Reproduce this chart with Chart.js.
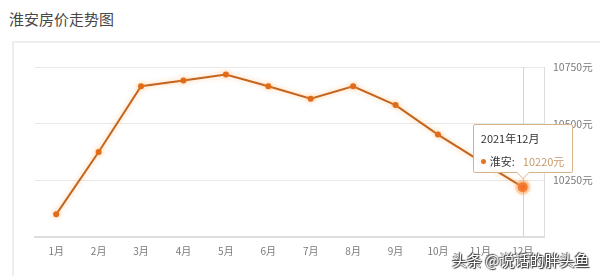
<!DOCTYPE html>
<html>
<head>
<meta charset="utf-8">
<script src="https://cdn.jsdelivr.net/npm/chart.js@4/dist/chart.umd.min.js"></script>
<style>
  html, body { margin: 0; padding: 0; background: #fff; }
  body { width: 600px; height: 276px; position: relative; overflow: hidden; font-family: "Noto Sans CJK SC", "Noto Sans", sans-serif; }
  #title { position: absolute; left: 9px; top: 8px; font-size: 15px; color: #484848; }
  #panel { position: absolute; left: 12px; top: 41px; width: 620px; height: 260px; border: 2px solid #eee; }
  #wrap { position: absolute; left: 0; top: 0; width: 600px; height: 276px; }
  #tip { position: absolute; display: none; width: 98px; height: 47px; background: rgba(255,255,255,0.96);
         border: 1px solid #d8b38a; border-radius: 2px; font-size: 11px; color: #333; box-sizing: content-box; }
  #tip .t { position: absolute; left: 7px; top: 5px; }
  #tip .b { position: absolute; left: 7px; top: 28px; color: #333; white-space: nowrap; }
  #tip .dot { display: inline-block; width: 5px; height: 5px; border-radius: 50%; background: #e8731e; margin-right: 4px; vertical-align: 2px; }
  #tip .v { color: #c59a68; margin-left: 8px; }
  #tip:after, #tip:before { content: ''; position: absolute; left: 50%; border-style: solid; border-color: transparent; }
  #tip:before { bottom: -7px; margin-left: -7px; border-width: 7px 7px 0 7px; border-top-color: #d8b38a; }
  #tip:after { bottom: -6px; margin-left: -6px; border-width: 6px 6px 0 6px; border-top-color: #fff; }
  #mark { position: absolute; left: 452px; top: 249px; font-size: 15px; color: #fff;
          text-shadow: 0 0 2px #333, 1px 1px 1px #333, -1px -1px 1px #555; }
</style>
</head>
<body>
<div id="title">淮安房价走势图</div>
<div id="panel"></div>
<div id="wrap"><canvas id="chart" width="600" height="276"></canvas></div>
<div id="tip"></div>
<div id="mark">头条 @说话的胖头鱼</div>
<script>
const months = ['1月', '2月', '3月', '4月', '5月', '6月', '7月', '8月', '9月', '10月', '11月', '12月'];
const prices = [10100, 10375, 10665, 10690, 10717, 10665, 10610, 10665, 10582, 10452, 10335, 10220];
const seriesName = '淮安';
const year = '2021年';
const yMin = 10000;
const yMax = 10750;
const yStep = 250;
const activeIndex = 11;

const lineGlow = {
  id: 'lineGlow',
  beforeDatasetDraw(chart) {
    const ctx = chart.ctx;
    ctx.save();
    ctx.shadowColor = 'rgba(255,170,80,0.6)';
    ctx.shadowBlur = 5;
  },
  afterDatasetDraw(chart) {
    chart.ctx.restore();
  }
};

const crossLine = {
  id: 'crossLine',
  beforeDatasetsDraw(chart) {
    const act = chart.getActiveElements();
    if (!act.length) return;
    const x = act[0].element.x;
    const { top, bottom } = chart.chartArea;
    const ctx = chart.ctx;
    ctx.save();
    ctx.strokeStyle = '#d4d4d4';
    ctx.lineWidth = 1;
    ctx.beginPath();
    ctx.moveTo(Math.round(x) + 0.5, top);
    ctx.lineTo(Math.round(x) + 0.5, bottom);
    ctx.stroke();
    ctx.restore();
  }
};

function externalTip(context) {
  const tip = document.getElementById('tip');
  const t = context.tooltip;
  if (t.opacity === 0 || !t.dataPoints || !t.dataPoints.length) { tip.style.display = 'none'; return; }
  const dp = t.dataPoints[0];
  tip.innerHTML = '<div class="t">' + year + dp.label + '</div>' +
    '<div class="b"><span class="dot"></span>' + seriesName + ':<span class="v">' + dp.raw + '元</span></div>';
  tip.style.display = 'block';
  const c = context.chart.canvas;
  tip.style.left = (c.offsetLeft + t.caretX - 50) + 'px';
  tip.style.top = (c.offsetTop + t.caretY - 63) + 'px';
}

const chart = new Chart(document.getElementById('chart'), {
  type: 'line',
  data: {
    labels: months,
    datasets: [{
      label: seriesName,
      data: prices,
      borderColor: '#c4651f',
      borderWidth: 2,
      backgroundColor: '#e26b1a',
      pointBackgroundColor: '#e26b1a',
      pointBorderColor: '#e26b1a',
      pointBorderWidth: 0,
      pointRadius: 3,
      pointHoverRadius: 5,
      pointHoverBackgroundColor: '#f06820',
      pointHoverBorderColor: 'rgba(250,150,80,0.35)',
      pointHoverBorderWidth: 5,
      tension: 0,
      fill: false
    }]
  },
  options: {
    responsive: false,
    animation: false,
    events: [],
    layout: { padding: { left: 35, top: 67, right: 0, bottom: 0 } },
    plugins: {
      legend: { display: false },
      tooltip: { enabled: false, external: externalTip }
    },
    scales: {
      x: {
        offset: true,
        grid: { display: false, drawTicks: false },
        border: { display: true, color: '#dedede', width: 2 },
        ticks: { color: '#7a7a7a', font: { size: 10, family: '"Noto Sans CJK SC"' }, padding: 8, maxRotation: 0, autoSkip: false },
        afterFit(scale) { scale.height = 39; }
      },
      y: {
        position: 'right',
        min: yMin,
        max: yMax,
        grid: { color: '#e9e9e9', drawTicks: false },
        border: { display: true, color: '#dedede', width: 1 },
        ticks: {
          stepSize: yStep,
          color: '#7a7a7a',
          padding: 9,
          font: { size: 10.5, family: '"Noto Sans CJK SC"' },
          callback: v => v === yMin ? '' : v + '元'
        },
        afterFit(scale) { scale.width = 56; }
      }
    }
  },
  plugins: [lineGlow, crossLine]
});

const active = [{ datasetIndex: 0, index: activeIndex }];
chart.setActiveElements(active);
chart.tooltip.setActiveElements(active, { x: 0, y: 0 });
chart.update();
</script>
</body>
</html>
